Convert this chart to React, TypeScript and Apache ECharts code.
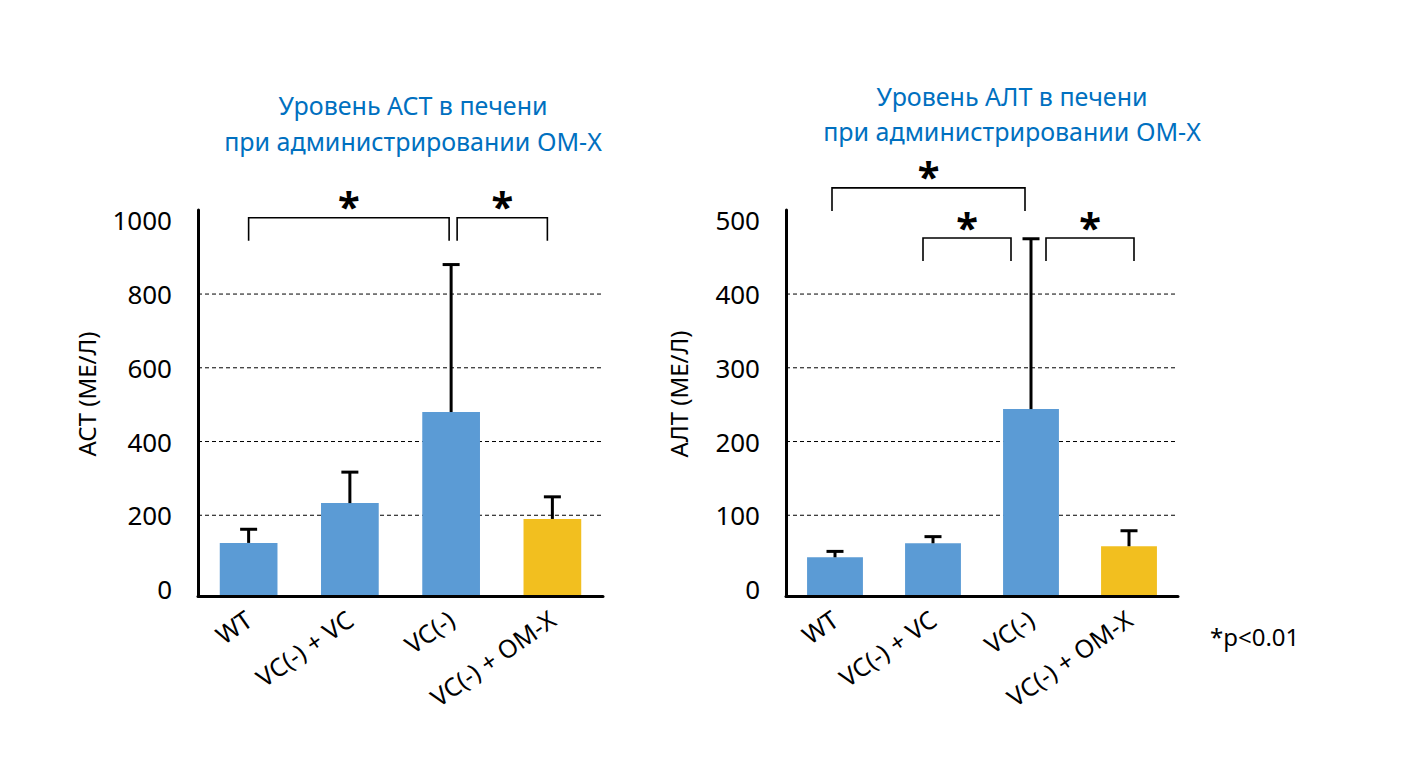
import React, { useEffect, useRef } from "react";
import * as echarts from "echarts";

// ---------- data ----------
const categories = ["WT", "VC(-) + VC", "VC(-)", "VC(-) + OM-X"];
const astMean = [125, 233, 480, 190];
const astUpper = [162, 317, 880, 250];
const altMean = [43, 62, 244, 58];
const altUpper = [51, 71, 475, 79];
const astTickLabels = [0, 200, 400, 600, 800, 1000];
const altTickLabels = [0, 100, 200, 300, 400, 500];
const astGridValues = [200, 400, 600, 800];
const altGridValues = [100, 200, 300, 400];
// significance brackets: [fromCategory, toCategory, level (axis units)]
const astBrackets = [
  [0, 2, 1007],
  [2, 3, 1007],
];
const altBrackets = [
  [0, 2, 544],
  [1, 2, 476],
  [2, 3, 476],
];
const astTitle = "Уровень АСТ в печени\nпри администрировании OM-X";
const altTitle = "Уровень АЛТ в печени\nпри администрировании OM-X";
const astAxisName = "АСТ (МЕ/Л)";
const altAxisName = "АЛТ (МЕ/Л)";
const footnote = "*p<0.01";

// ---------- styles / layout ----------
const FONT = '"Noto Sans", "DejaVu Sans", sans-serif';
const barColors = ["#5B9BD5", "#5B9BD5", "#5B9BD5", "#F2BF1F"];
// pixel nudges of bracket ends (from, to)
const astBracketNudge = [
  [0, -2],
  [6, -5],
];
const altBracketNudge = [
  [-3, -6],
  [-10, -20],
  [15, 5],
];

function labelFormatter(allowed: number[]) {
  return (v: number) =>
    allowed.indexOf(Math.round(v)) >= 0 && Math.abs(v - Math.round(v)) < 1e-6 ? String(Math.round(v)) : "";
}

function gridSeries(idx: number, values: number[]) {
  return {
    type: "custom",
    xAxisIndex: idx,
    yAxisIndex: idx,
    z: 1,
    silent: true,
    data: values.map((v) => [0, v]),
    encode: { x: 0, y: 1 },
    renderItem: (params: any, api: any) => {
      const p = api.coord([0, api.value(1)]);
      const cs = params.coordSys;
      return {
        type: "line",
        shape: { x1: cs.x, y1: p[1], x2: cs.x + cs.width, y2: p[1] },
        style: { stroke: "#000", lineWidth: 1, lineDash: [4, 3] },
      };
    },
  };
}

function barSeries(idx: number, means: number[]) {
  return {
    type: "custom",
    xAxisIndex: idx,
    yAxisIndex: idx,
    z: 2,
    data: means.map((v, i) => [i, v]),
    encode: { x: 0, y: 1 },
    renderItem: (params: any, api: any) => {
      const i = api.value(0);
      const p = api.coord([i, api.value(1)]);
      const bw = api.size([1, 0])[0] * 0.57;
      const cs = params.coordSys;
      const bottom = cs.y + cs.height;
      return {
        type: "rect",
        shape: { x: p[0] - bw / 2, y: p[1], width: bw, height: bottom - p[1] },
        style: { fill: barColors[i] },
      };
    },
  };
}

function errorSeries(idx: number, means: number[], uppers: number[]) {
  return {
    type: "custom",
    xAxisIndex: idx,
    yAxisIndex: idx,
    z: 3,
    data: means.map((v, i) => [i, v, uppers[i]]),
    encode: { x: 0, y: [1, 2] },
    renderItem: (params: any, api: any) => {
      const i = api.value(0);
      const base = api.coord([i, api.value(1)]);
      const top = api.coord([i, api.value(2)]);
      const cap = 17;
      return {
        type: "group",
        children: [
          {
            type: "line",
            shape: { x1: top[0], y1: base[1], x2: top[0], y2: top[1] },
            style: { stroke: "#000", lineWidth: 3 },
          },
          {
            type: "line",
            shape: { x1: top[0] - cap / 2, y1: top[1], x2: top[0] + cap / 2, y2: top[1] },
            style: { stroke: "#000", lineWidth: 3 },
          },
        ],
      };
    },
  };
}

function bracketSeries(idx: number, brackets: number[][], nudge: number[][]) {
  return {
    type: "custom",
    xAxisIndex: idx,
    yAxisIndex: idx,
    z: 4,
    silent: true,
    clip: false,
    data: brackets.map((b) => [b[0], b[1], b[2]]),
    encode: { x: [0, 1], y: 2 },
    renderItem: (params: any, api: any) => {
      const k = params.dataIndex;
      const a = api.coord([api.value(0), api.value(2)]);
      const b = api.coord([api.value(1), api.value(2)]);
      const x1 = a[0] + nudge[k][0];
      const x2 = b[0] + nudge[k][1];
      const y = a[1];
      const leg = 23;
      return {
        type: "group",
        children: [
          {
            type: "polyline",
            shape: { points: [[x1, y + leg], [x1, y], [x2, y], [x2, y + leg]] },
            style: { stroke: "#000", lineWidth: 1.6, fill: "none" },
          },
          {
            type: "text",
            x: (x1 + x2) / 2,
            y: y + 8,
            style: {
              text: "*",
              fill: "#000",
              font: `bold 40px ${FONT}`,
              textAlign: "center",
              textVerticalAlign: "bottom",
            },
          },
        ],
      };
    },
  };
}

function xAxisCfg(idx: number) {
  return {
    type: "category",
    gridIndex: idx,
    data: categories,
    z: 10,
    axisLine: { show: true, onZero: false, lineStyle: { color: "#000", width: 3 } },
    axisTick: { show: false },
    axisLabel: {
      interval: 0,
      rotate: 35,
      margin: 20,
      color: "#000",
      fontSize: 25,
      fontFamily: FONT,
    },
    splitLine: { show: false },
  };
}

function yAxisCfg(idx: number, min: number, max: number, labels: number[], name: string, gap: number) {
  return {
    type: "value",
    gridIndex: idx,
    min,
    max,
    z: 10,
    name,
    nameLocation: "middle",
    nameGap: gap,
    nameRotate: 90,
    nameTextStyle: { color: "#000", fontSize: 24, fontFamily: FONT, padding: [0, 0, 0, 18] },
    axisLine: { show: true, onZero: false, lineStyle: { color: "#000", width: 3 } },
    axisTick: { show: false },
    splitLine: { show: false },
    axisLabel: {
      margin: 26,
      color: "#000",
      fontSize: 26,
      fontFamily: FONT,
      showMinLabel: true,
      showMaxLabel: true,
      formatter: labelFormatter(labels),
    },
  };
}

export default function App() {
  const ref = useRef<HTMLDivElement>(null);
  useEffect(() => {
    if (!ref.current) return;
    const chart = echarts.init(ref.current, undefined, { renderer: "svg" });
    chart.setOption({
      animation: false,
      backgroundColor: "#fff",
      grid: [
        { left: 198, top: 210, width: 405, height: 386 },
        { left: 786, top: 210, width: 392, height: 386 },
      ],
      xAxis: [xAxisCfg(0), xAxisCfg(1)],
      yAxis: [
        yAxisCfg(0, -19, 1028, astTickLabels, astAxisName, 100),
        yAxisCfg(1, -9.5, 514, altTickLabels, altAxisName, 96),
      ],
      graphic: [
        {
          type: "text",
          x: 413,
          y: 123,
          style: {
            text: astTitle,
            fill: "#0070C0",
            font: `25px ${FONT}`,
            lineHeight: 36,
            textAlign: "center",
            textVerticalAlign: "middle",
          },
        },
        {
          type: "text",
          x: 1012,
          y: 113.5,
          style: {
            text: altTitle,
            fill: "#0070C0",
            font: `25px ${FONT}`,
            lineHeight: 35,
            textAlign: "center",
            textVerticalAlign: "middle",
          },
        },
        {
          type: "text",
          x: 1210,
          y: 636,
          style: {
            text: footnote,
            fill: "#000",
            font: `24px ${FONT}`,
            textAlign: "left",
            textVerticalAlign: "middle",
          },
        },
      ],
      series: [
        gridSeries(0, astGridValues),
        barSeries(0, astMean),
        errorSeries(0, astMean, astUpper),
        bracketSeries(0, astBrackets, astBracketNudge),
        gridSeries(1, altGridValues),
        barSeries(1, altMean),
        errorSeries(1, altMean, altUpper),
        bracketSeries(1, altBrackets, altBracketNudge),
      ],
    });
    return () => chart.dispose();
  }, []);
  return (
    <div
      ref={ref}
      style={{ position: "absolute", left: 0, top: 0, width: 1409, height: 760 }}
    />
  );
}
